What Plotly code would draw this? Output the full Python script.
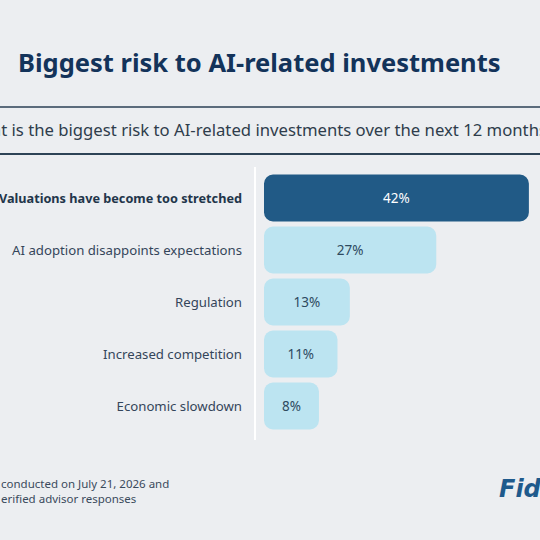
import plotly.graph_objects as go

# Données
categories = [
    "Valuations have become too stretched",
    "AI adoption disappoints expectations",
    "Regulation",
    "Increased competition",
    "Economic slowdown",
]
values = [42, 27, 13, 11, 8]
value_labels = ["42%", "27%", "13%", "11%", "8%"]
highlight = [True, False, False, False, False]

title_text = "Biggest risk to AI-related investments"
question_text = "What is the biggest risk to AI-related investments over the next 12 months?"
footnote_lines = ["conducted on July 21, 2026 and", "erified advisor responses"]
logo_text = "Fidelity"

FONT = "Noto Sans"
bar_pad = 0.9  # petite marge visuelle au début de chaque barre

bar_colors = ["#215A86" if h else "#BCE4F1" for h in highlight]
text_colors = ["#FFFFFF" if h else "#2E4A60" for h in highlight]
tick_text = [
    f"<b><span style='font-size:12.7px;color:#22354A'>{c}</span></b>" if h else c
    for c, h in zip(categories, highlight)
]

fig = go.Figure()

fig.add_trace(go.Bar(
    y=categories,
    x=[v + bar_pad for v in values],
    base=-bar_pad,
    orientation='h',
    marker=dict(color=bar_colors, line=dict(width=0), cornerradius=9),
    text=value_labels,
    textposition='inside',
    insidetextanchor='middle',
    textfont=dict(family=FONT, size=13.5, color=text_colors),
    hoverinfo='skip',
))

fig.update_layout(
    width=540,
    height=540,
    paper_bgcolor="#ECEEF1",
    plot_bgcolor="#ECEEF1",
    margin=dict(l=0, r=0, t=0, b=0),
    showlegend=False,
    bargap=0.1,
    font=dict(family=FONT, color="#34475A"),
    xaxis=dict(
        domain=[0.4889, 1.0],
        range=[-bar_pad, 43.8],
        visible=False,
        fixedrange=True,
        automargin=False,
    ),
    yaxis=dict(
        domain=[0.2, 0.6815],
        autorange='reversed',
        tickmode='array',
        tickvals=categories,
        ticktext=tick_text,
        tickfont=dict(family=FONT, size=13.2, color="#34455A"),
        ticks='',
        ticklabelstandoff=21,
        showgrid=False,
        zeroline=False,
        showline=False,
        automargin=False,
        fixedrange=True,
    ),
)

# Titre et question
fig.add_annotation(
    text=f"<b>{title_text}</b>", xref='paper', yref='paper',
    x=0.480, y=1 - 62 / 540, xanchor='center', yanchor='middle',
    showarrow=False, font=dict(family=FONT, size=25.5, color="#13335A"),
)
fig.add_annotation(
    text=question_text, xref='paper', yref='paper',
    x=0.4815, y=1 - 129 / 540, xanchor='center', yanchor='middle',
    showarrow=False, font=dict(family=FONT, size=16.7, color="#2F3D4C"),
)

# Lignes de séparation
fig.add_shape(type='line', xref='paper', yref='paper',
              x0=0, x1=1, y0=1 - 107 / 540, y1=1 - 107 / 540,
              line=dict(color="#5B6B7C", width=2))
fig.add_shape(type='line', xref='paper', yref='paper',
              x0=0, x1=1, y0=1 - 154 / 540, y1=1 - 154 / 540,
              line=dict(color="#2D4356", width=2))
# Ligne verticale blanche
fig.add_shape(type='line', xref='paper', yref='paper',
              x0=255 / 540, x1=255 / 540, y0=1 - 167 / 540, y1=1 - 440 / 540,
              line=dict(color="#FFFFFF", width=2))

# Note de bas de page
fig.add_annotation(
    text="<br>".join(footnote_lines), xref='paper', yref='paper',
    x=-0.002, y=1 - 491 / 540, xanchor='left', yanchor='middle', align='left',
    showarrow=False, font=dict(family=FONT, size=11.5, color="#3A4A5C"),
)

# Logo
fig.add_annotation(
    text=f"<b><i>{logo_text}</i></b>", xref='paper', yref='paper',
    x=497 / 540, y=1 - 489 / 540, xanchor='left', yanchor='middle',
    showarrow=False, font=dict(family="DejaVu Sans", size=24, color="#1F5A8C"),
)

fig.write_html("out.html", config={"displayModeBar": False},
               post_script="document.body.style.margin='0';")
